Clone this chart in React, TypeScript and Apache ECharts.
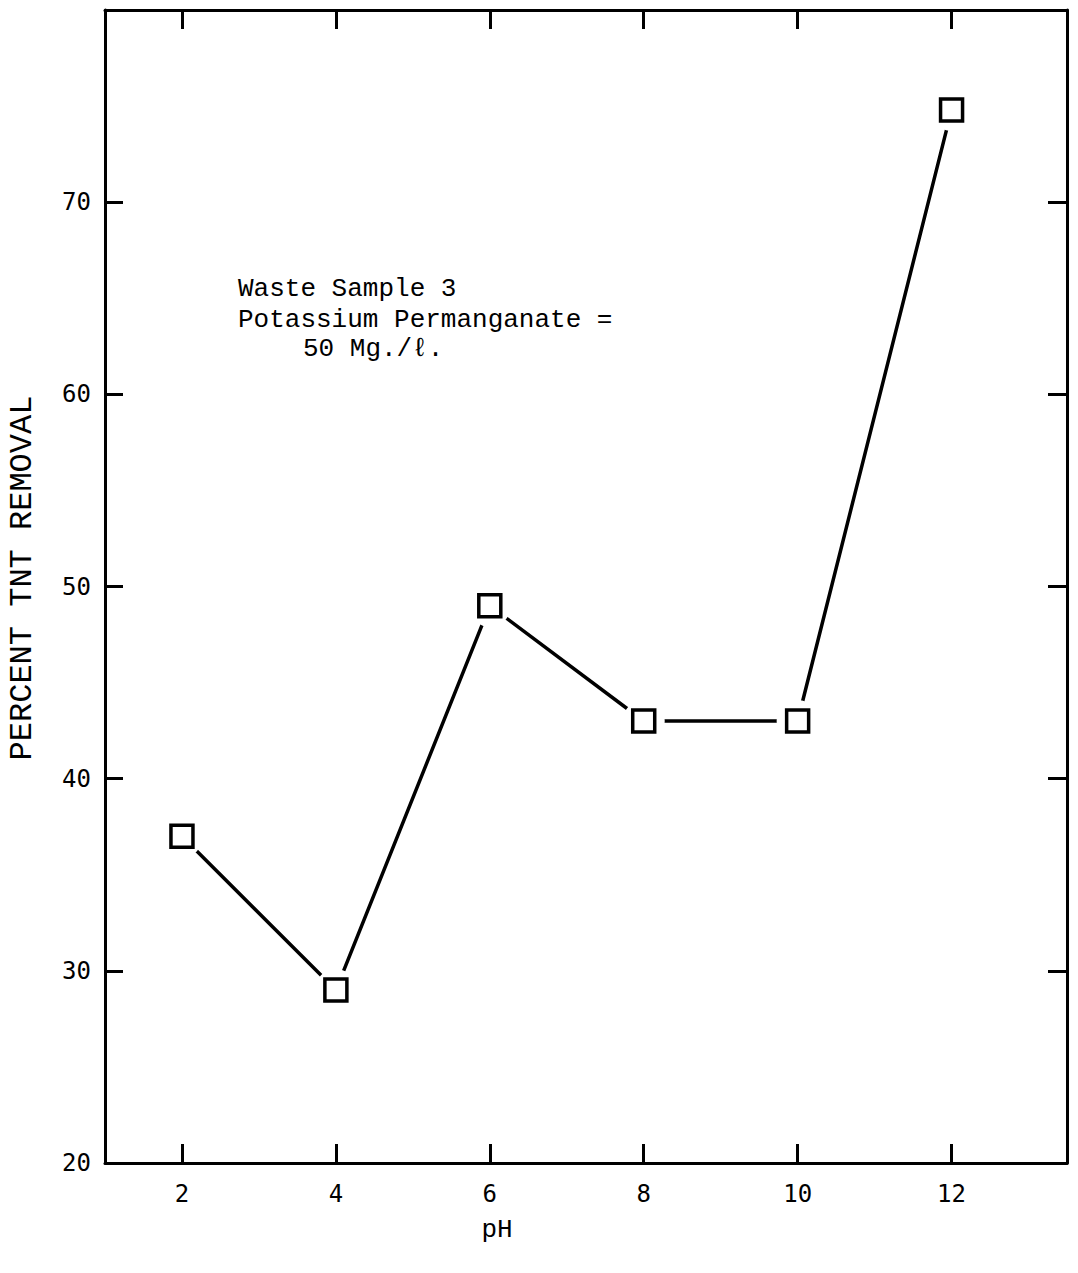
import { useEffect, useRef } from "react";
import * as echarts from "echarts";

// pH levels tested and the percent of TNT removed at each
const phValues = [2, 4, 6, 8, 10, 12];
const removalPercent = [37, 29, 49, 43, 43, 74.8];

// Tick positions on each axis
const phTicks = [2, 4, 6, 8, 10, 12];
const percentTicks = [20, 30, 40, 50, 60, 70];

// Annotation inside the plot
const noteLines = ["Waste Sample 3", "Potassium Permanganate =", "50 Mg./ℓ."];

const TYPE_FONT = "'Liberation Mono', 'DejaVu Sans Mono', monospace";
const NUM_FONT = "'DejaVu Sans Mono', 'Liberation Mono', monospace";

export default function App() {
  const ref = useRef<HTMLDivElement>(null);

  useEffect(() => {
    if (!ref.current) return;
    const chart = echarts.init(ref.current, null, { renderer: "svg" });
    const points = phValues.map((ph, i) => [ph, removalPercent[i]]);

    const frameLine = { show: true, lineStyle: { color: "#000", width: 3 } };
    const tickStyle = { color: "#000", width: 3 };

    chart.setOption({
      animation: false,
      backgroundColor: "#fff",
      grid: { left: 105, right: 11, top: 10, bottom: 110, containLabel: false },
      xAxis: [
        {
          type: "value",
          position: "bottom",
          min: 1,
          max: 13.5,
          axisLine: frameLine,
          axisTick: { show: true, inside: true, length: 19, lineStyle: tickStyle, customValues: phTicks },
          axisLabel: {
            show: true,
            customValues: phTicks,
            margin: 19,
            color: "#000",
            fontSize: 24,
            fontFamily: NUM_FONT,
          },
          splitLine: { show: false },
        },
        {
          type: "value",
          position: "top",
          min: 1,
          max: 13.5,
          axisLine: frameLine,
          axisTick: { show: true, inside: true, length: 19, lineStyle: tickStyle, customValues: phTicks },
          axisLabel: { show: false },
          splitLine: { show: false },
        },
      ],
      yAxis: [
        {
          type: "value",
          position: "left",
          min: 20,
          max: 80,
          interval: 10,
          axisLine: frameLine,
          axisTick: { show: true, inside: true, length: 18, lineStyle: tickStyle, customValues: percentTicks },
          axisLabel: {
            show: true,
            customValues: percentTicks,
            margin: 14,
            color: "#000",
            fontSize: 24,
            fontFamily: NUM_FONT,
          },
          splitLine: { show: false },
        },
        {
          type: "value",
          position: "right",
          min: 20,
          max: 80,
          interval: 10,
          axisLine: frameLine,
          axisTick: { show: true, inside: true, length: 19, lineStyle: tickStyle, customValues: percentTicks },
          axisLabel: { show: false },
          splitLine: { show: false },
        },
      ],
      series: [
        {
          type: "line",
          data: points,
          showSymbol: false,
          z: 2,
          lineStyle: { color: "#000", width: 3.5 },
        },
        {
          // white halo that leaves a gap between the line and each marker
          type: "scatter",
          data: points,
          symbol: "circle",
          symbolSize: 42,
          z: 3,
          itemStyle: { color: "#fff", borderWidth: 0, opacity: 1 },
        },
        {
          type: "scatter",
          data: points,
          symbol: "rect",
          symbolSize: 22,
          z: 4,
          itemStyle: { color: "#fff", borderColor: "#000", borderWidth: 3.5, opacity: 1 },
        },
      ],
      graphic: [
        {
          type: "text",
          left: 238,
          top: 276,
          style: { text: noteLines[0], font: `26px ${TYPE_FONT}`, fill: "#000" },
        },
        {
          type: "text",
          left: 238,
          top: 307,
          style: { text: noteLines[1], font: `26px ${TYPE_FONT}`, fill: "#000" },
        },
        {
          type: "text",
          left: 303,
          top: 336,
          style: { text: noteLines[2], font: `26px ${TYPE_FONT}`, fill: "#000" },
        },
        {
          type: "text",
          x: 22,
          y: 578,
          rotation: Math.PI / 2,
          style: {
            text: "PERCENT TNT REMOVAL",
            font: `32px ${TYPE_FONT}`,
            fill: "#000",
            align: "center",
            verticalAlign: "middle",
          },
        },
        {
          type: "text",
          x: 497,
          y: 1230,
          style: {
            text: "pH",
            font: `26px ${TYPE_FONT}`,
            fill: "#000",
            align: "center",
            verticalAlign: "middle",
          },
        },
      ],
    });

    return () => chart.dispose();
  }, []);

  return <div ref={ref} style={{ width: 1078, height: 1273, margin: -8 }} />;
}
